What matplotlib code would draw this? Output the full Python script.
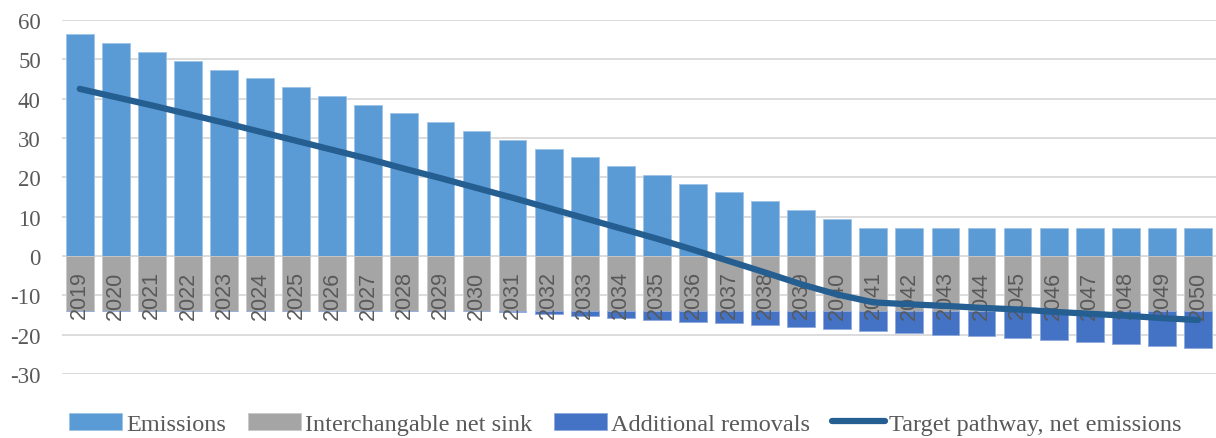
import matplotlib.pyplot as plt
import numpy as np

plt.rcParams['axes.unicode_minus'] = False

years = list(range(2019, 2051))
emissions = [56.4, 54.2, 51.9, 49.7, 47.4, 45.3, 43.0, 40.8, 38.5, 36.4,
             34.1, 31.8, 29.5, 27.3, 25.2, 22.9, 20.7, 18.4, 16.3, 14.0,
             11.7, 9.4, 7.1, 7.1, 7.1, 7.1, 7.1, 7.1, 7.1, 7.1, 7.1, 7.1]
net_sink = [-14.0] * 32
additional = [0.0] * 12 + [-0.3, -0.8, -1.3, -1.8, -2.3, -2.8, -3.1, -3.6,
                           -4.1, -4.6, -5.1, -5.5, -6.0, -6.4, -6.9, -7.4,
                           -7.9, -8.3, -8.8, -9.3]
target = [42.5, 40.4, 38.3, 36.1, 33.9, 31.6, 29.3, 27.0, 24.7, 22.2,
          19.8, 17.3, 14.8, 12.2, 9.6, 7.0, 4.4, 1.6, -1.3, -4.2,
          -7.2, -9.8, -11.8, -12.3, -12.7, -13.2, -13.6, -14.2, -14.7, -15.2,
          -15.8, -16.3]

x = np.arange(len(years))
w = 0.77

fig = plt.figure(figsize=(12.16, 4.39), dpi=100)
ax = fig.add_axes([0.0507, 0.146, 0.9493, 0.806])

b1 = ax.bar(x, emissions, w, color='#5B9BD5', edgecolor='#9DC3E6', linewidth=0.6,
            label='Emissions', zorder=2)
b2 = ax.bar(x, net_sink, w, color='#A5A5A5', edgecolor='#C9C9C9', linewidth=0.6,
            label='Interchangable net sink', zorder=2)
b3 = ax.bar(x, additional, w, bottom=net_sink, color='#4472C4', edgecolor='#8FAADC',
            linewidth=0.6, label='Additional removals', zorder=2)
ln, = ax.plot(x, target, color='#255E91', lw=4.5, solid_capstyle='round',
              solid_joinstyle='round', label='Target pathway, net emissions', zorder=4)

for i, yr in enumerate(years):
    ax.text(i, -9.8, str(yr), rotation=90, ha='center', va='center',
            fontsize=15.5, family='Liberation Sans', color='#595959', zorder=3)

ax.set_xlim(-0.5, 31.5)
ax.set_ylim(-30, 60)
ax.set_yticks(range(-30, 61, 10))
ax.set_xticks([])
ax.tick_params(axis='y', length=0, pad=15, labelsize=16.5, labelcolor='#595959')
for lab in ax.get_yticklabels():
    lab.set_family('Liberation Serif')
ax.grid(axis='y', color='#D9D9D9', lw=1.3, zorder=0)
ax.set_axisbelow(True)
for s in ax.spines.values():
    s.set_visible(False)

fig.legend([b1, b2, b3, ln],
           ['Emissions', 'Interchangable net sink', 'Additional removals',
            'Target pathway, net emissions'],
           loc='center', bbox_to_anchor=(0.514, 0.032), ncol=4, frameon=False,
           prop={'family': 'Liberation Serif', 'size': 17.5},
           labelcolor='#595959', handlelength=2.2, handleheight=0.7,
           handletextpad=0.15, columnspacing=0.9, borderpad=0)

fig.savefig('out.png', dpi=100)
